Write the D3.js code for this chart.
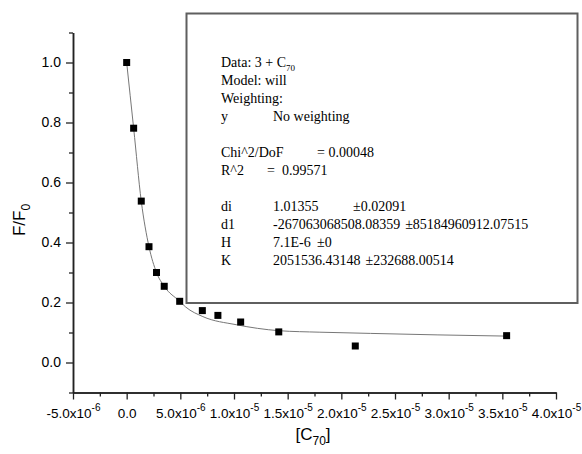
<!DOCTYPE html>
<html>
<head>
<meta charset="utf-8">
<script src="https://cdn.jsdelivr.net/npm/d3@7"></script>
<style>
  body { margin: 0; background: #fff; }
  text { fill: #000; }
</style>
</head>
<body>
<div id="chart"></div>
<script>
// measured points: [C70] (M) vs F/F0
let concC70 = [0, 0.65e-6, 1.36e-6, 2.08e-6, 2.78e-6, 3.5e-6, 4.94e-6, 7.05e-6, 8.5e-6, 1.062e-5, 1.417e-5, 2.13e-5, 3.54e-5];
let ratioF = [1.0, 0.781, 0.538, 0.386, 0.300, 0.254, 0.204, 0.173, 0.157, 0.135, 0.102, 0.055, 0.0895];

// fitted curve
let fitX = [0, 0.65e-6, 1.36e-6, 2.08e-6, 2.78e-6, 3.5e-6, 4.94e-6, 5.5e-6, 7.1e-6, 1.02e-5, 1.42e-5, 1.8e-5, 2.27e-5, 2.9e-5, 3.54e-5];
let fitY = [1.0, 0.781, 0.538, 0.386, 0.300, 0.254, 0.204, 0.185, 0.153, 0.126, 0.106, 0.101, 0.097, 0.092, 0.088];

let xTicks = [-5e-6, 0, 5e-6, 1e-5, 1.5e-5, 2e-5, 2.5e-5, 3e-5, 3.5e-5, 4e-5];
let xMinor = [-2.5e-6, 2.5e-6, 7.5e-6, 1.25e-5, 1.75e-5, 2.25e-5, 2.75e-5, 3.25e-5, 3.75e-5];
let yTicks = [0.0, 0.2, 0.4, 0.6, 0.8, 1.0];
let yMinor = [-0.1, 0.1, 0.3, 0.5, 0.7, 0.9, 1.1];

// fit report
let infoLines = [["Model: will"], ["Weighting:"], ["y", "No weighting"]];
let statsRows = [["Chi^2/DoF", "= 0.00048"], ["R^2", "=  0.99571"]];
let paramRows = [
  ["di", "1.01355", "\u00B10.02091"],
  ["d1", "-267063068508.08359", "\u00B185184960912.07515"],
  ["H", "7.1E-6", "\u00B10"],
  ["K", "2051536.43148", "\u00B1232688.00514"]
];

let width = 582, height = 454;
let sans = "'Liberation Sans', Arial, sans-serif";
let serif = "'Liberation Serif', 'Times New Roman', serif";

let svg = d3.select("#chart").append("svg")
  .attr("width", width)
  .attr("height", height);

let x = d3.scaleLinear().domain([-5e-6, 4e-5]).range([73, 556]);
let y = d3.scaleLinear().domain([-0.1, 1.1]).range([392.5, 32.5]);

// fit line
let pts = fitX.map((d, i) => [d, fitY[i]]);
svg.append("path")
  .datum(pts)
  .attr("fill", "none")
  .attr("stroke", "#777")
  .attr("stroke-width", 1)
  .attr("d", d3.line().x(d => x(d[0])).y(d => y(d[1])).curve(d3.curveMonotoneX));

// points
let s = 7;
svg.selectAll(".pt")
  .data(concC70.map((d, i) => [d, ratioF[i]]))
  .enter().append("rect")
  .attr("class", "pt")
  .attr("x", d => x(d[0]) - s / 2)
  .attr("y", d => y(d[1]) - s / 2)
  .attr("width", s)
  .attr("height", s)
  .attr("fill", "#000");

// axes
function styleAxis(g) {
  g.select(".domain").attr("stroke", "#222").attr("stroke-width", 1.5);
  g.selectAll(".tick line").attr("stroke", "#222").attr("stroke-width", 1.3);
}

svg.append("g")
  .attr("transform", "translate(73,0)")
  .call(d3.axisLeft(y).tickValues(yMinor).tickSize(4).tickSizeOuter(0).tickFormat(""))
  .call(styleAxis);

let yAxis = svg.append("g")
  .attr("transform", "translate(73,0)")
  .call(d3.axisLeft(y).tickValues(yTicks).tickSize(7).tickSizeOuter(0).tickPadding(5).tickFormat(d3.format(".1f")))
  .call(styleAxis);
yAxis.selectAll(".tick text")
  .attr("font-family", sans)
  .attr("font-size", 14)
  .attr("fill", "#000");

svg.append("g")
  .attr("transform", "translate(0,392.5)")
  .call(d3.axisBottom(x).tickValues(xMinor).tickSize(4).tickSizeOuter(0).tickFormat(""))
  .call(styleAxis);

let xAxis = svg.append("g")
  .attr("transform", "translate(0,392.5)")
  .call(d3.axisBottom(x).tickValues(xTicks).tickSize(7).tickSizeOuter(0).tickFormat(""))
  .call(styleAxis);

xAxis.selectAll(".tick").each(function (v) {
  let t = d3.select(this).append("text")
    .attr("y", 25)
    .attr("text-anchor", "middle")
    .attr("font-family", sans)
    .attr("font-size", 13.5)
    .attr("fill", "#000");
  if (v === 0) {
    t.text("0.0");
    return;
  }
  let e = Math.floor(Math.log10(Math.abs(v)) + 1e-9);
  let m = (v / Math.pow(10, e)).toFixed(1);
  t.append("tspan").text(m + "x10");
  t.append("tspan").attr("dy", -7).attr("font-size", 10).text(e);
});

// axis titles
let yl = svg.append("text")
  .attr("transform", "translate(25,220) rotate(-90)")
  .attr("text-anchor", "middle")
  .attr("font-family", sans)
  .attr("font-size", 17);
yl.append("tspan").text("F/F");
yl.append("tspan").attr("dy", 5).attr("font-size", 12).text("0");

let xl = svg.append("text")
  .attr("x", 313)
  .attr("y", 440)
  .attr("text-anchor", "middle")
  .attr("font-family", sans)
  .attr("font-size", 17);
xl.append("tspan").text("[C");
xl.append("tspan").attr("dy", 5).attr("font-size", 12).text("70");
xl.append("tspan").attr("dy", -5).text("]");

// report box
svg.append("rect")
  .attr("x", 186.5)
  .attr("y", 13.5)
  .attr("width", 391)
  .attr("height", 289.5)
  .attr("fill", "#fff")
  .attr("stroke", "#5f5f5f")
  .attr("stroke-width", 2);

let box = svg.append("g")
  .attr("font-family", serif)
  .attr("font-size", 14);

let base = 67, lh = 18, c0 = 221, c1 = 273;

let dl = box.append("text").attr("x", c0).attr("y", base);
dl.append("tspan").text("Data: 3 + C");
dl.append("tspan").attr("dy", 4).attr("font-size", 9).text("70");

infoLines.forEach((row, i) => {
  let yy = base + (i + 1) * lh;
  box.append("text").attr("x", c0).attr("y", yy).text(row[0]);
  if (row[1]) box.append("text").attr("x", c1).attr("y", yy).text(row[1]);
});

let statsX = [317, 267];
statsRows.forEach((row, i) => {
  let yy = base + (5 + i) * lh;
  box.append("text").attr("x", c0).attr("y", yy).text(row[0]);
  box.append("text").attr("x", statsX[i]).attr("y", yy).style("white-space", "pre").text(row[1]);
});

// error column: tab stop or just after the value
let errX = [353, 405, 317, 355];
paramRows.forEach((row, i) => {
  let yy = base + (8 + i) * lh;
  box.append("text").attr("x", c0).attr("y", yy).text(row[0]);
  let v = box.append("text").attr("x", c1).attr("y", yy).text(row[1]);
  let end = c1 + v.node().getComputedTextLength();
  box.append("text").attr("x", Math.max(errX[i], end + 5)).attr("y", yy).text(row[2]);
});
</script>
</body>
</html>
